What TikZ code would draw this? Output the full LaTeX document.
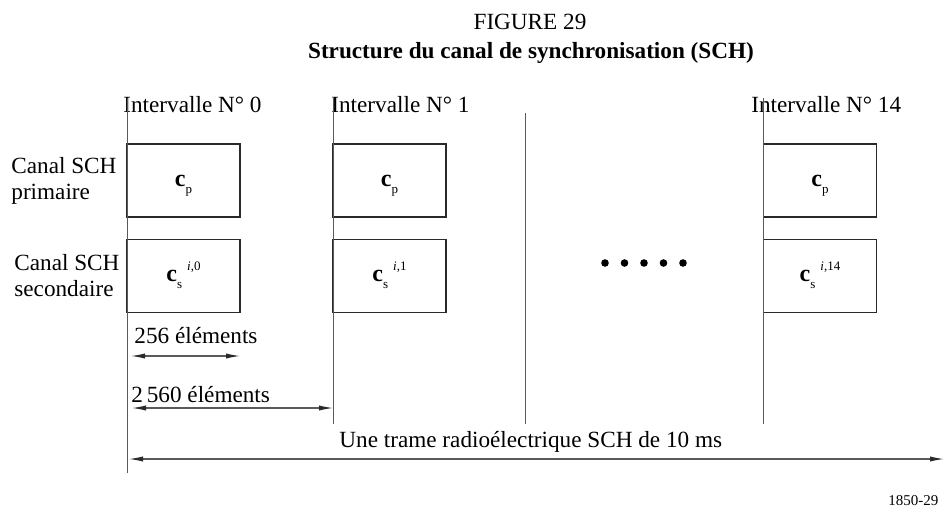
\documentclass[tikz,border=0pt]{standalone}
\usepackage{fontspec}
\setmainfont{Liberation Serif}
\usetikzlibrary{arrows.meta,calc}
\definecolor{boxline}{HTML}{2A2A2A}
\definecolor{guideline}{HTML}{5A5A5A}
\newcommand{\txt}{\fontsize{11.6}{13}\selectfont}
\newcommand{\sublbl}[1]{\smash{\raisebox{-3.5pt}{\fontsize{6.5}{7}\selectfont #1}}}
\newcommand{\suplbl}[1]{\smash{\raisebox{5.5pt}{\fontsize{6.5}{7}\selectfont #1}}}
\tikzset{
  slotbox/.style={draw=boxline, line width=0.9pt, minimum width=56.5pt, minimum height=36.5pt, inner sep=0pt, font=\fontsize{12}{14}\selectfont},
  sidelabel/.style={align=left, inner sep=0pt, anchor=west, font=\txt},
  slottext/.style={inner sep=0pt, anchor=base west, font=\txt},
  guide/.style={draw=guideline, line width=0.5pt},
  dimarrow/.style={{Latex[length=7pt,width=2.6pt,color=boxline]}-{Latex[length=7pt,width=2.6pt,color=boxline]}, line width=0.55pt, draw=guideline},
  dots/.style={fill=black, draw=none}
}

\begin{document}
\begin{tikzpicture}[x=0.5pt,y=-0.5pt]
  \useasboundingbox (0,0) rectangle (944,510);

  % titles
  \node[inner sep=0pt, anchor=base, font=\txt] (fig) at (530,29) {FIGURE 29};
  \node[inner sep=0pt, anchor=base, font=\txt\bfseries] (title) at (531,58) {Structure du canal de synchronisation (SCH)};

  % interval labels
  \node[slottext] (int0) at (123,112) {Intervalle N° 0};
  \node[slottext] (int1) at (331,112) {Intervalle N° 1};
  \node[slottext] (int14) at (751,112) {Intervalle N° 14};

  % side labels
  \node[sidelabel] (prim) at (11,181) {Canal SCH\\primaire};
  \node[sidelabel] (sec) at (14,276) {Canal SCH\\secondaire};

  % slot boxes
  \node[slotbox] (p0) at (183.5,180.5) {\textbf{c}\sublbl{p}};
  \node[slotbox] (s0) at (183.5,276) {\textbf{c}\sublbl{s}\hspace{2.5pt}\suplbl{\textit{i},0}};
  \node[slotbox] (p1) at (389.5,180.5) {\textbf{c}\sublbl{p}};
  \node[slotbox] (s1) at (389.5,276) {\textbf{c}\sublbl{s}\hspace{2.5pt}\suplbl{\textit{i},1}};
  \node[slotbox] (p14) at (820,180.5) {\textbf{c}\sublbl{p}};
  \node[slotbox] (s14) at (820,276) {\textbf{c}\sublbl{s}\hspace{2.5pt}\suplbl{\textit{i},14}};

  % dots
  \foreach \dx in {605,624.5,644,663.5,683}
    \fill[dots] (\dx,263) circle (3.8);

  % vertical guides
  \coordinate (g0top) at (127,98);
  \coordinate (g0bot) at (127,473);
  \coordinate (g1top) at (333,98);
  \coordinate (g1bot) at (333,424);
  \coordinate (gmtop) at (525,113);
  \coordinate (gmbot) at (525,424);
  \coordinate (g14top) at (763,98);
  \coordinate (g14bot) at (763,424);
  \draw[guide] (g0top) -- (g0bot);
  \draw[guide] (g1top) -- (g1bot);
  \draw[guide] (gmtop) -- (gmbot);
  \draw[guide] (g14top) -- (g14bot);

  % dimension arrows
  \node[slottext] (d256) at (134,343) {256 éléments};
  \coordinate (a256l) at (131,356);
  \coordinate (a256r) at (240,356);
  \draw[dimarrow] (a256l) -- (a256r);

  \node[slottext] (d2560) at (131,402) {2\,560 éléments};
  \coordinate (a2560l) at (132,408);
  \coordinate (a2560r) at (333,408);
  \draw[dimarrow] (a2560l) -- (a2560r);

  \node[slottext] (dframe) at (339,447) {Une trame radioélectrique SCH de 10 ms};
  \coordinate (aframel) at (129,459);
  \coordinate (aframer) at (944,459);
  \draw[dimarrow] (aframel) -- (aframer);

  % reference number
  \node[inner sep=0pt, anchor=base west, font=\fontsize{7.5}{9}\selectfont] (ref) at (888,505) {1850-29};

\end{tikzpicture}
\end{document}
